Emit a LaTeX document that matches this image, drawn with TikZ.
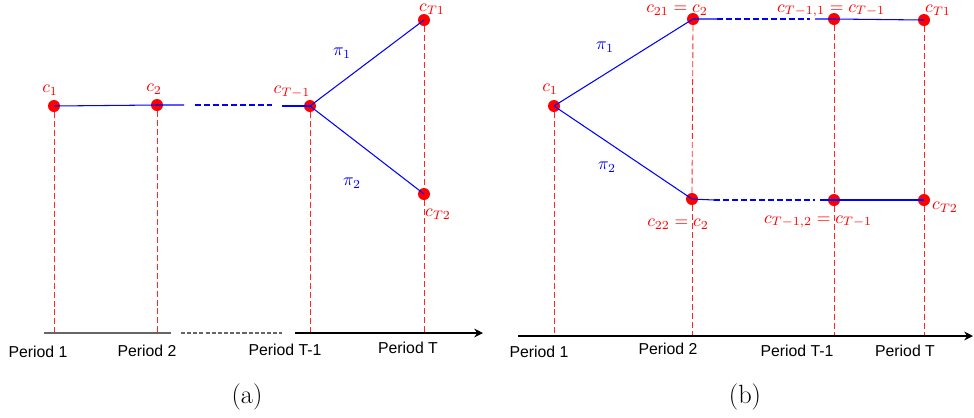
\documentclass[tikz,border=0pt]{standalone}
\usepackage{fontspec}
\newfontfamily\arialfont{Liberation Sans}
\usetikzlibrary{arrows.meta}
\begin{document}
\begin{tikzpicture}[x=0.02cm, y=-0.02cm,
  dot/.style={circle, fill=red, inner sep=0pt, minimum size=0.24cm},
  clab/.style={text=red, inner sep=0pt},
  plab/.style={text=blue, inner sep=0pt},
  branch/.style={blue, line width=0.6pt},
  gapline/.style={blue, line width=0.6pt, dash pattern=on 3.4pt off 1.7pt},
  vline/.style={red!85, line width=0.5pt, dash pattern=on 3.4pt off 1.7pt},
  axisline/.style={black!60, line width=0.7pt},
  axisdash/.style={black!60, line width=0.7pt, dash pattern=on 2.3pt off 1.2pt},
  axisarr/.style={black, line width=0.7pt, -{Stealth[length=5pt, width=5pt]}},
  period/.style={font=\fontsize{9}{10}\arialfont, inner sep=0pt},
  caption/.style={font=\fontsize{15}{18}\selectfont, inner sep=0pt}
  ]
  \useasboundingbox (0,0) rectangle (974,417);

  \node[dot] (a1)  at (54,106)  {};
  \node[dot] (a2)  at (157,105) {};
  \node[dot] (aTm) at (310,106) {};
  \node[dot] (aT1) at (424,20)  {};
  \node[dot] (aT2) at (424,194) {};
  \node[clab] (la1)  at (50,90)   {$c_1$};
  \node[clab] (la2)  at (154,89)  {$c_2$};
  \node[clab] (laTm) at (292,92)  {$c_{T-1}$};
  \node[clab] (laT1) at (432,9)   {$c_{T1}$};
  \node[clab] (laT2) at (438,214) {$c_{T2}$};
  \node[plab] (pa1) at (342,53)  {$\pi_1$};
  \node[plab] (pa2) at (352,183) {$\pi_2$};

  \coordinate (ga1) at (184,105);
  \coordinate (ga2) at (195,105);
  \coordinate (ga3) at (272,105);
  \coordinate (ga4) at (282,106);
  \coordinate (axA0) at (44,333);
  \coordinate (axA1) at (171,333);
  \coordinate (axA2) at (181,333);
  \coordinate (axA3) at (282,333);
  \coordinate (axA4) at (295,333);
  \coordinate (axA5) at (483,333);

  \foreach \d in {a1,a2,aTm,aT2}
    \draw[vline] (\d.south) -- (\d |- axA0);
  \draw[vline] (aT1.south) -- (aT2.north);
  \draw[branch] (a1.center) -- (a2.center) -- (ga1);
  \draw[gapline] (ga2) -- (ga3);
  \draw[branch] (ga4) -- (aTm.center);
  \draw[branch] (aTm.center) -- (aT1.center);
  \draw[branch] (aTm.center) -- (aT2.center);
  \draw[axisline] (axA0) -- (axA1);
  \draw[axisdash] (axA2) -- (axA3);
  \draw[axisarr] (axA4) -- (axA5);

  \node[period] (pera1) at (38,352)  {Period 1};
  \node[period] (pera2) at (147,351) {Period 2};
  \node[period] (pera3) at (285,350) {Period T-1};
  \node[period] (pera4) at (408,348) {Period T};
  \node[caption] (capa) at (247,397) {(a)};

  \node[dot] (b1)   at (554,106) {};
  \node[dot] (b21)  at (693,19)  {};
  \node[dot] (bTm1) at (834,19)  {};
  \node[dot] (bT1)  at (924,20)  {};
  \node[dot] (b22)  at (692,199) {};
  \node[dot] (bTm2) at (834,200) {};
  \node[dot] (bT2)  at (924,200) {};
  \node[clab] (lb1)   at (550,89)  {$c_1$};
  \node[clab] (lb21)  at (677,10)  {$c_{21}=c_2$};
  \node[clab] (lbTm1) at (831,11)  {$c_{T-1,1}=c_{T-1}$};
  \node[clab] (lbT1)  at (938,10)  {$c_{T1}$};
  \node[clab] (lb22)  at (678,224) {$c_{22}=c_2$};
  \node[clab] (lbTm2) at (818,222) {$c_{T-1,2}=c_{T-1}$};
  \node[clab] (lbT2)  at (945,207) {$c_{T2}$};
  \node[plab] (pb1) at (605,47)  {$\pi_1$};
  \node[plab] (pb2) at (607,167) {$\pi_2$};

  \coordinate (gt1) at (717,19);
  \coordinate (gt2) at (810,19);
  \coordinate (gt3) at (815,19);
  \coordinate (gb1) at (714,200);
  \coordinate (gb2) at (815,200);
  \coordinate (gb3) at (820,200);
  \coordinate (axB0) at (518,336);
  \coordinate (axB1) at (973,336);

  \foreach \d in {b1,b22,bTm2,bT2}
    \draw[vline] (\d.south) -- (\d |- axB0);
  \draw[vline] (b21.south) -- (b22.north);
  \draw[vline] (bTm1.south) -- (bTm2.north);
  \draw[vline] (bT1.south) -- (bT2.north);
  \draw[branch] (b1.center) -- (b21.center) -- (gt1);
  \draw[gapline] (gt1) -- (gt2);
  \draw[branch] (gt3) -- (bTm1.center) -- (bT1.center);
  \draw[branch] (b1.center) -- (b22.center) -- (gb1);
  \draw[gapline] (gb1) -- (gb2);
  \draw[branch] (gb3) -- (bTm2.center) -- (bT2.center);
  \draw[axisarr] (axB0) -- (axB1);

  \node[period] (perb1) at (539,352) {Period 1};
  \node[period] (perb2) at (668,349) {Period 2};
  \node[period] (perb3) at (797,351) {Period T-1};
  \node[period] (perb4) at (905,351) {Period T};
  \node[caption] (capb) at (745,397) {(b)};
\end{tikzpicture}
\end{document}
